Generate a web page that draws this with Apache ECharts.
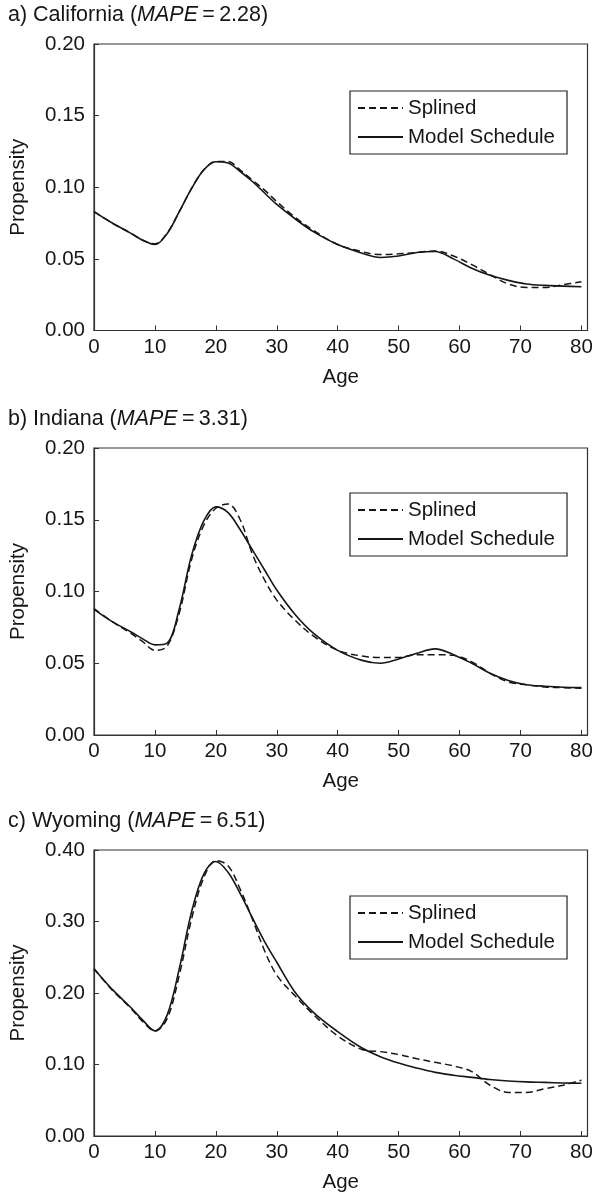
<!DOCTYPE html>
<html>
<head>
<meta charset="utf-8">
<script src="https://cdn.jsdelivr.net/npm/echarts@6/dist/echarts.min.js"></script>
<style>html,body{margin:0;padding:0;background:#fff;}#c{width:597px;height:1196px;}</style>
</head>
<body>
<div id="c"></div>
<script>
const ages = [0, 3, 6, 8, 10, 12, 14, 16, 18, 20, 22, 24, 26, 28, 30, 33, 36, 40, 44, 47, 50, 53, 56, 59, 62, 65, 68, 71, 74, 77, 80];

const caSplined = [0.083, 0.075, 0.068, 0.063, 0.0605, 0.068, 0.083, 0.099, 0.112, 0.118, 0.118, 0.112, 0.105, 0.098, 0.090, 0.079, 0.070, 0.060, 0.055, 0.053, 0.0535, 0.0545, 0.0555, 0.052, 0.046, 0.039, 0.0325, 0.030, 0.030, 0.032, 0.034];
const caModel   = [0.083, 0.075, 0.068, 0.063, 0.060, 0.0676, 0.083, 0.099, 0.112, 0.1178, 0.117, 0.111, 0.104, 0.096, 0.088, 0.078, 0.069, 0.060, 0.054, 0.051, 0.052, 0.0545, 0.0552, 0.050, 0.0435, 0.0385, 0.035, 0.0325, 0.0315, 0.031, 0.0305];

const inSplined = [0.088, 0.079, 0.071, 0.065, 0.059, 0.062, 0.085, 0.122, 0.146, 0.158, 0.161, 0.150, 0.126, 0.108, 0.094, 0.080, 0.069, 0.059, 0.055, 0.054, 0.054, 0.056, 0.056, 0.0555, 0.051, 0.043, 0.037, 0.035, 0.0335, 0.033, 0.0325];
const inModel   = [0.0876, 0.079, 0.072, 0.067, 0.0628, 0.064, 0.088, 0.125, 0.149, 0.159, 0.155, 0.143, 0.129, 0.115, 0.101, 0.084, 0.071, 0.059, 0.052, 0.050, 0.053, 0.057, 0.060, 0.056, 0.050, 0.043, 0.038, 0.035, 0.034, 0.0333, 0.033];

const wySplined = [0.234, 0.204, 0.179, 0.160, 0.147, 0.164, 0.225, 0.303, 0.361, 0.385, 0.378, 0.345, 0.3035, 0.259, 0.225, 0.196, 0.170, 0.140, 0.121, 0.118, 0.114, 0.108, 0.103, 0.098, 0.090, 0.071, 0.061, 0.061, 0.066, 0.071, 0.078];
const wyModel   = [0.234, 0.205, 0.180, 0.162, 0.147, 0.169, 0.234, 0.313, 0.366, 0.384, 0.369, 0.339, 0.305, 0.272, 0.243, 0.201, 0.173, 0.146, 0.123, 0.111, 0.102, 0.095, 0.089, 0.085, 0.082, 0.079, 0.077, 0.0757, 0.075, 0.0742, 0.0738];

const panelLetters = ['a)', 'b)', 'c)'];
const panelStates = ['California', 'Indiana', 'Wyoming'];
const panelMape = ['2.28', '3.31', '6.51'];
const yMax = [0.2, 0.2, 0.4];
const yInterval = [0.05, 0.05, 0.1];
const xTickInterval = 10;
const seriesNames = ['Splined', 'Model Schedule'];
const splinedSets = [caSplined, inSplined, wySplined];
const modelSets = [caModel, inModel, wyModel];

const FONT = "'Liberation Sans', Arial, Helvetica, sans-serif";
const FS = 20.5;
const TFS = 21.5;
const INK = '#161616';
const gridTops = [44, 448, 850];
const gridHs = [286.5, 287, 286];

const chart = echarts.init(document.getElementById('c'), null, {renderer: 'canvas'});

const option = {
  backgroundColor: '#fff',
  animation: false,
  title: [], grid: [], xAxis: [], yAxis: [], legend: [], series: []
};

for (let i = 0; i < 3; i++) {
  option.title.push({
    text: '{n|' + panelLetters[i] + ' ' + panelStates[i] + ' (}{i|MAPE}{n|\u2009=\u2009' + panelMape[i] + ')}',
    left: 8, top: gridTops[i] - 40, padding: 0,
    textStyle: {
      fontWeight: 'normal',
      rich: {
        n: {fontSize: TFS, fontFamily: FONT, color: INK, fontWeight: 'normal'},
        i: {fontSize: TFS, fontFamily: FONT, color: INK, fontStyle: 'italic', fontWeight: 'normal'}
      }
    }
  });
  option.grid.push({
    left: 90, top: gridTops[i], width: 497.5, height: gridHs[i],
    show: true, borderColor: '#333', borderWidth: 1.2, backgroundColor: 'transparent'
  });
  option.xAxis.push({
    type: 'value', gridIndex: i, min: 0, max: 81, interval: xTickInterval,
    name: 'Age', nameLocation: 'middle', nameGap: 36,
    nameTextStyle: {fontSize: FS, fontFamily: FONT, color: INK},
    axisLine: {show: true, lineStyle: {color: '#333', width: 1.2}},
    axisTick: {show: true, inside: true, length: 5, lineStyle: {color: '#333', width: 1}},
    axisLabel: {fontSize: FS, fontFamily: FONT, color: INK, margin: 6,
      formatter: v => (v % 10 === 0 ? String(v) : '')},
    splitLine: {show: false}
  });
  option.yAxis.push({
    type: 'value', gridIndex: i, min: 0, max: yMax[i], interval: yInterval[i],
    name: 'Propensity', nameLocation: 'middle', nameGap: 65,
    nameTextStyle: {fontSize: FS, fontFamily: FONT, color: INK},
    axisLine: {show: true, lineStyle: {color: '#333', width: 1.2}},
    axisTick: {show: true, inside: true, length: 5, lineStyle: {color: '#333', width: 1}},
    axisLabel: {fontSize: FS, fontFamily: FONT, color: INK, margin: 9,
      formatter: v => v.toFixed(2)},
    splitLine: {show: false}
  });
  option.legend.push({
    data: seriesNames,
    orient: 'vertical', left: 350, top: gridTops[i] + [47, 45, 46][i],
    backgroundColor: '#fff',
    borderColor: '#222', borderWidth: 1.2, borderRadius: 0,
    padding: [6, 12, 6, 7],
    itemWidth: 45, itemHeight: 14, itemGap: 7,
    itemStyle: {opacity: 0},
    textStyle: {fontSize: FS, fontFamily: FONT, color: INK, lineHeight: 22},
    selectedMode: false
  });
  const sp = splinedSets[i], md = modelSets[i];
  option.series.push({
    name: seriesNames[0], type: 'line', xAxisIndex: i, yAxisIndex: i,
    data: ages.map((a, j) => [a, sp[j]]),
    smooth: 0.35, symbol: 'none', showSymbol: false,
    lineStyle: {color: INK, width: 1.5, type: [7, 4]}, itemStyle: {color: INK}
  });
  option.series.push({
    name: seriesNames[1], type: 'line', xAxisIndex: i, yAxisIndex: i,
    data: ages.map((a, j) => [a, md[j]]),
    smooth: 0.35, symbol: 'none', showSymbol: false,
    lineStyle: {color: INK, width: 1.6, type: 'solid'}, itemStyle: {color: INK}
  });
}

chart.setOption(option);
</script>
</body>
</html>
